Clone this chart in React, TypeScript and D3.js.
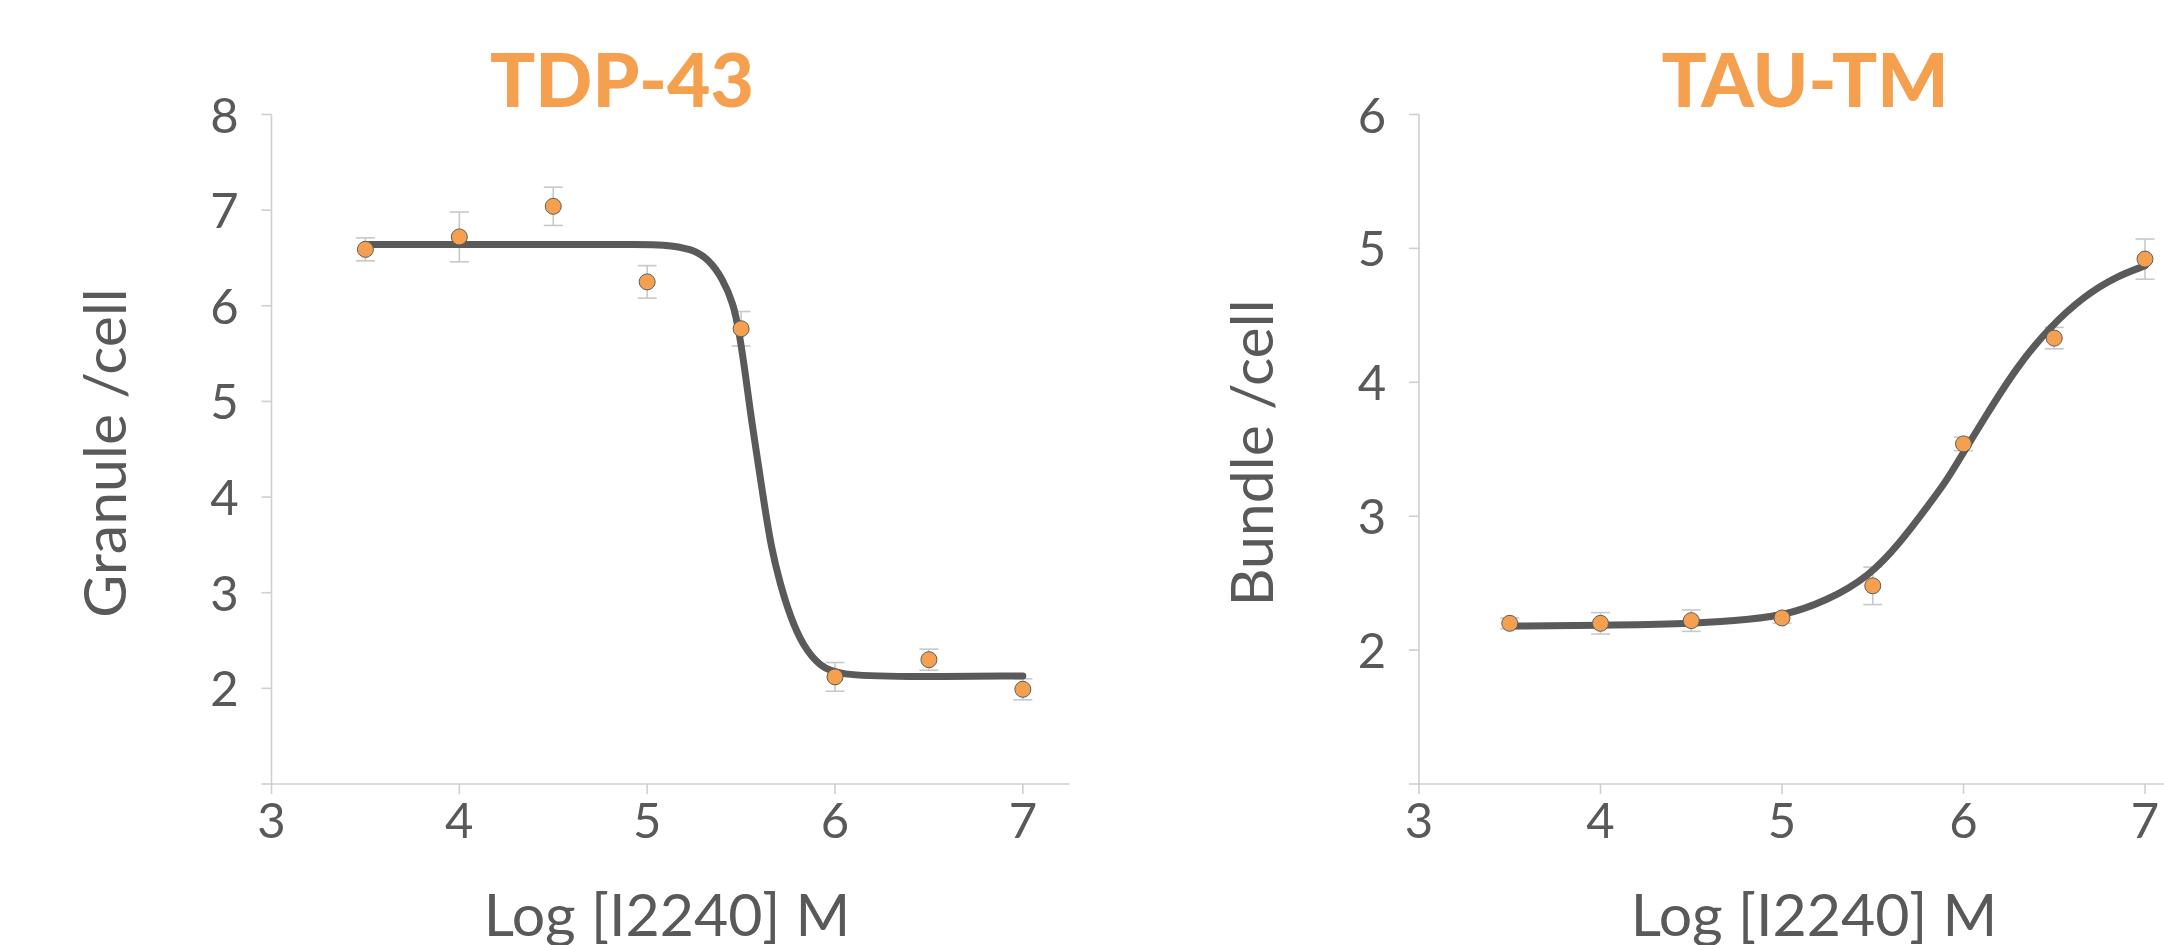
import React from "react";
import * as d3 from "d3";

// ---------- Data ----------
const doses = [3.5, 4, 4.5, 5, 5.5, 6, 6.5, 7];

// TDP-43 (Granule/cell)
const tdpMeans = [6.59, 6.72, 7.04, 6.25, 5.76, 2.12, 2.3, 1.99];
const tdpErrors = [0.12, 0.26, 0.2, 0.17, 0.18, 0.15, 0.11, 0.11];
const tdpFitX = [3.5, 4.0, 4.5, 5.0, 5.07, 5.24, 5.33, 5.4, 5.46, 5.49, 5.52, 5.55, 5.58, 5.62, 5.66, 5.71, 5.76, 5.83, 5.92, 6.02, 6.34, 7.0];
const tdpFitY = [6.64, 6.64, 6.64, 6.64, 6.64, 6.6, 6.48, 6.29, 6.02, 5.72, 5.33, 4.88, 4.49, 3.97, 3.47, 3.08, 2.76, 2.44, 2.23, 2.14, 2.12, 2.13];

// TAU-TM (Bundle/cell)
const tauMeans = [2.2, 2.2, 2.22, 2.24, 2.48, 3.54, 4.33, 4.92];
const tauErrors = [0.04, 0.08, 0.08, 0.04, 0.14, 0.05, 0.08, 0.15];
const tauFitX = [3.5, 4.0, 4.5, 4.73, 5.0, 5.25, 5.48, 5.65, 5.8, 5.91, 6.01, 6.11, 6.29, 6.48, 6.66, 6.84, 7.0];
const tauFitY = [2.18, 2.185, 2.197, 2.22, 2.25, 2.37, 2.55, 2.8, 3.07, 3.27, 3.5, 3.72, 4.11, 4.42, 4.64, 4.79, 4.87];

const xTicks = [3, 4, 5, 6, 7];
const tdpYTicks = [2, 3, 4, 5, 6, 7, 8];
const tauYTicks = [2, 3, 4, 5, 6];

const xLabel = "Log [I2240] M";

// ---------- Styles ----------
const TEXT = "#595959";
const AXIS = "#cfcfcf";
const ORANGE = "#F4A04F";
const CURVE = "#5a5a5a";
const ERR = "#c8c8c8";
const FONT = "Lato, 'Open Sans', sans-serif";

type PanelProps = {
  title: string;
  titleX: number;
  yLabel: string;
  yLabelX: number;
  xLabelX: number;
  xRange: [number, number];
  yDomain: [number, number];
  yTicks: number[];
  means: number[];
  errors: number[];
  fitX: number[];
  fitY: number[];
};

function Panel(p: PanelProps) {
  const x = d3.scaleLinear().domain([3, 7.25]).range(p.xRange);
  const y = d3.scaleLinear().domain(p.yDomain).range([784, 114.5]);
  const fit = p.fitX.map((v, i) => [v, p.fitY[i]] as [number, number]);
  const line = d3
    .line<[number, number]>()
    .x((d) => x(d[0]))
    .y((d) => y(d[1]))
    .curve(d3.curveBasis);
  const x0 = x(3);
  const yBottom = y(p.yDomain[0]);
  const yTop = y(p.yDomain[1]);
  const capW = 9.5;
  return (
    <g>
      <text
        x={p.titleX}
        y={107}
        textAnchor="middle"
        fontFamily={FONT}
        fontWeight={900}
        fontSize={75}
        fill={ORANGE}
      >
        {p.title}
      </text>
      {/* axes */}
      <line x1={x0} x2={x0} y1={yTop} y2={yBottom} stroke={AXIS} strokeWidth={1.6} />
      <line x1={x0} x2={p.xRange[1]} y1={yBottom} y2={yBottom} stroke={AXIS} strokeWidth={1.6} />
      {p.yTicks.map((t) => (
        <g key={"yt" + t}>
          <line x1={x0 - 10} x2={x0} y1={y(t)} y2={y(t)} stroke={AXIS} strokeWidth={1.6} />
          <text
            x={x0 - 47}
            y={y(t) + 18}
            textAnchor="middle"
            fontFamily={FONT}
            fontWeight={400}
            fontSize={49}
            fill={TEXT}
          >
            {t}
          </text>
        </g>
      ))}
      <line x1={x0 - 10} x2={x0} y1={yBottom} y2={yBottom} stroke={AXIS} strokeWidth={1.6} />
      {xTicks.map((t) => (
        <g key={"xt" + t}>
          <line x1={x(t)} x2={x(t)} y1={yBottom} y2={yBottom + 10} stroke={AXIS} strokeWidth={1.6} />
          <text
            x={x(t)}
            y={838}
            textAnchor="middle"
            fontFamily={FONT}
            fontWeight={400}
            fontSize={49}
            fill={TEXT}
          >
            {t}
          </text>
        </g>
      ))}
      {/* axis titles */}
      <text
        x={p.xLabelX}
        y={936}
        textAnchor="middle"
        fontFamily={FONT}
        fontWeight={400}
        fontSize={59}
        fill={TEXT}
      >
        {xLabel}
      </text>
      <text
        transform={`translate(${p.yLabelX},453) rotate(-90)`}
        textAnchor="middle"
        fontFamily={FONT}
        fontWeight={400}
        fontSize={59}
        fill={TEXT}
      >
        {p.yLabel}
      </text>
      {/* error bars */}
      {doses.map((d, i) => {
        const cx = x(d);
        const yHi = y(p.means[i] + p.errors[i]);
        const yLo = y(p.means[i] - p.errors[i]);
        return (
          <g key={"e" + i} stroke={ERR} strokeWidth={1.6}>
            <line x1={cx} x2={cx} y1={yHi} y2={yLo} />
            <line x1={cx - capW} x2={cx + capW} y1={yHi} y2={yHi} />
            <line x1={cx - capW} x2={cx + capW} y1={yLo} y2={yLo} />
          </g>
        );
      })}
      {/* fitted curve */}
      <path d={line(fit) || ""} fill="none" stroke={CURVE} strokeWidth={7} strokeLinecap="round" />
      {/* points */}
      {doses.map((d, i) => (
        <circle
          key={"c" + i}
          cx={x(d)}
          cy={y(p.means[i])}
          r={8}
          fill={ORANGE}
          stroke="#5e5e5e"
          strokeWidth={1}
        />
      ))}
    </g>
  );
}

export default function App() {
  return (
    <svg
      width={2164}
      height={945}
      viewBox="0 0 2164 945"
      style={{ position: "absolute", left: 0, top: 0, background: "#fff", overflow: "hidden" }}
    >
      <rect width={2164} height={945} fill="#fff" />
      <Panel
        title="TDP-43"
        titleX={622}
        yLabel="Granule /cell"
        yLabelX={126}
        xLabelX={667}
        xRange={[271.5, 1069.8]}
        yDomain={[1, 8]}
        yTicks={tdpYTicks}
        means={tdpMeans}
        errors={tdpErrors}
        fitX={tdpFitX}
        fitY={tdpFitY}
      />
      <Panel
        title="TAU-TM"
        titleX={1805}
        yLabel="Bundle /cell"
        yLabelX={1273}
        xLabelX={1814}
        xRange={[1419, 1419 + 4.25 * 181.5]}
        yDomain={[1, 6]}
        yTicks={tauYTicks}
        means={tauMeans}
        errors={tauErrors}
        fitX={tauFitX}
        fitY={tauFitY}
      />
    </svg>
  );
}
